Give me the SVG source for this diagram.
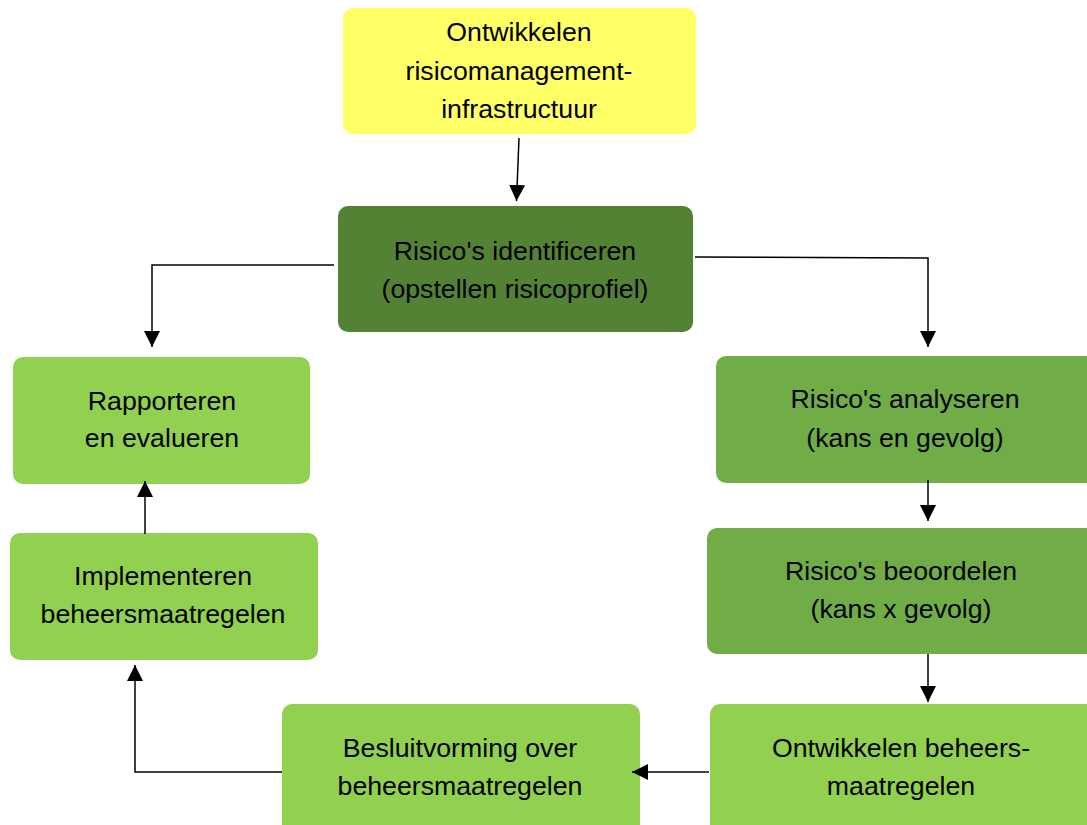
<svg xmlns="http://www.w3.org/2000/svg" width="1087" height="825" viewBox="0 0 1087 825">
<style>
.t{font-family:"Liberation Sans",Arial,sans-serif;font-size:26.7px;fill:#000;text-anchor:middle}
.c{fill:none;stroke:#000;stroke-width:1.5}
</style>
<defs>
<marker id="ah" viewBox="0 0 16 16" refX="16" refY="8" markerWidth="16" markerHeight="16" markerUnits="userSpaceOnUse" orient="auto">
<path d="M0,0 L16,8 L0,16 z" fill="#000"/>
</marker>
</defs>
<rect width="1087" height="825" fill="#fff"/>
<g id="n1">
<rect x="343" y="8" width="353" height="126" rx="10" fill="#FFFF66"/>
<text class="t" x="519" y="41">Ontwikkelen</text>
<text class="t" x="519" y="80">risicomanagement-</text>
<text class="t" x="519" y="118">infrastructuur</text>
</g>
<g id="n2">
<rect x="338" y="206" width="355" height="126" rx="10" fill="#548235"/>
<text class="t" x="515" y="260">Risico's identificeren</text>
<text class="t" x="515" y="298">(opstellen risicoprofiel)</text>
</g>
<g id="n3">
<rect x="13" y="357" width="297" height="127" rx="10" fill="#92D050"/>
<text class="t" x="162" y="410">Rapporteren</text>
<text class="t" x="162" y="447">en evalueren</text>
</g>
<g id="n4">
<rect x="10" y="533" width="308" height="127" rx="10" fill="#92D050"/>
<text class="t" x="163" y="585">Implementeren</text>
<text class="t" x="163" y="623">beheersmaatregelen</text>
</g>
<g id="n5">
<rect x="716" y="356" width="381" height="127" rx="10" fill="#70AD47"/>
<text class="t" x="905" y="408">Risico's analyseren</text>
<text class="t" x="905" y="447">(kans en gevolg)</text>
</g>
<g id="n6">
<rect x="707" y="528" width="390" height="126" rx="10" fill="#70AD47"/>
<text class="t" x="901" y="580">Risico's beoordelen</text>
<text class="t" x="901" y="618">(kans x gevolg)</text>
</g>
<g id="n7">
<rect x="710" y="704" width="387" height="131" rx="10" fill="#92D050"/>
<text class="t" x="901" y="757">Ontwikkelen beheers-</text>
<text class="t" x="901" y="795">maatregelen</text>
</g>
<g id="n8">
<rect x="282" y="704" width="358" height="131" rx="10" fill="#92D050"/>
<text class="t" x="460" y="757">Besluitvorming over</text>
<text class="t" x="460" y="795">beheersmaatregelen</text>
</g>
<g id="connectors">
<path class="c" d="M519,138 L516.5,201" marker-end="url(#ah)"/>
<path class="c" d="M334,265 L152,265 L152,347" marker-end="url(#ah)"/>
<path class="c" d="M695,257 L928,258 L928,347" marker-end="url(#ah)"/>
<path class="c" d="M928,480 L928,521" marker-end="url(#ah)"/>
<path class="c" d="M928,654 L928,702" marker-end="url(#ah)"/>
<path class="c" d="M709,772 L632,772" marker-end="url(#ah)"/>
<path class="c" d="M282,772 L135,772 L135,665" marker-end="url(#ah)"/>
<path class="c" d="M145,534 L145,481" marker-end="url(#ah)"/>
</g>
</svg>
